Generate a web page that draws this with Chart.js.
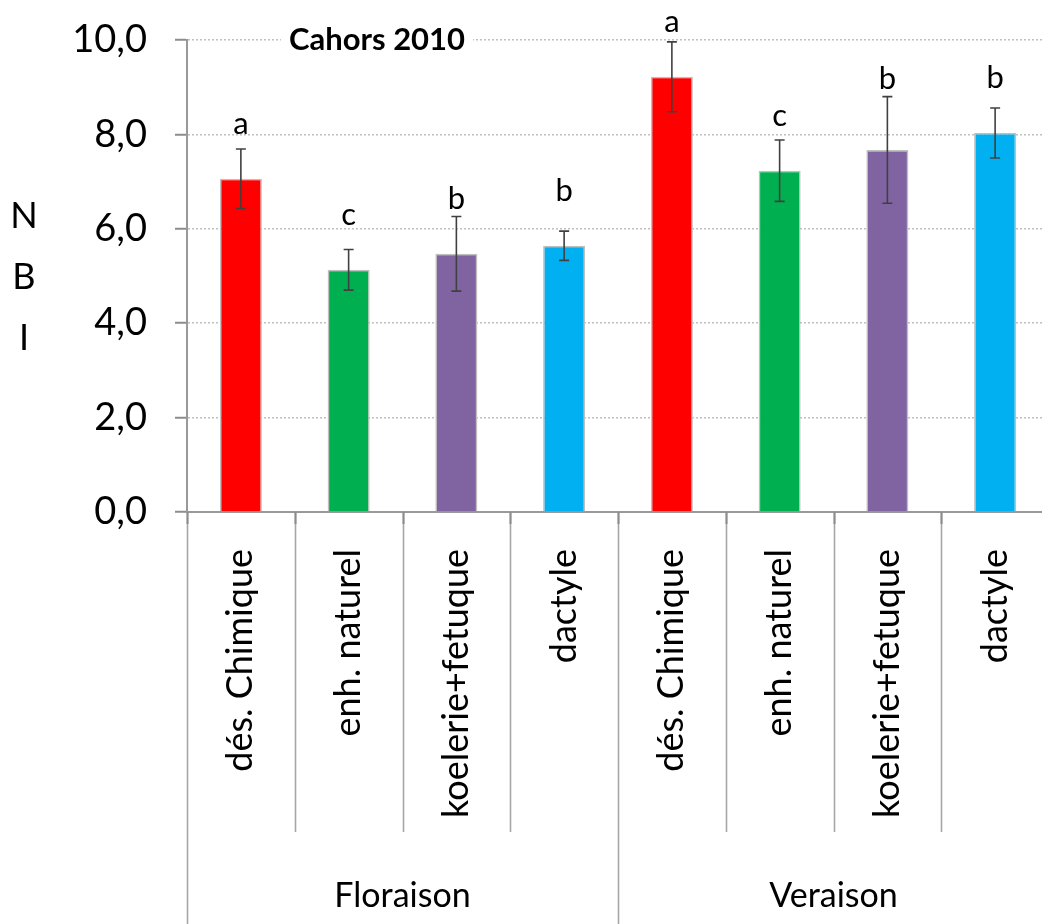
<!DOCTYPE html>
<html>
<head>
<meta charset="utf-8">
<script src="https://cdn.jsdelivr.net/npm/chart.js@4.4.1/dist/chart.umd.min.js"></script>
<style>
  html, body { margin: 0; padding: 0; background: #fff; overflow: hidden; }
  #wrap { width: 1042px; height: 924px; overflow: hidden; position: relative; background: #fff; }
  canvas { display: block; }
</style>
</head>
<body>
<div id="wrap"><canvas id="nbi" width="1109" height="924"></canvas></div>
<script>
// NBI per cover treatment, two phenological stages
const categories = ['dés. Chimique', 'enh. naturel', 'koelerie+fetuque', 'dactyle',
                    'dés. Chimique', 'enh. naturel', 'koelerie+fetuque', 'dactyle'];
const stages = ['Floraison', 'Veraison'];
const stageOfCategory = [0, 0, 0, 0, 1, 1, 1, 1];
const nbiValues = [7.06, 5.13, 5.47, 5.64, 9.22, 7.23, 7.67, 8.03];
const nbiErrors = [0.63, 0.43, 0.79, 0.31, 0.74, 0.65, 1.13, 0.53];
const groupLetters = ['a', 'c', 'b', 'b', 'a', 'c', 'b', 'b'];
const yTicks = [0, 2, 4, 6, 8, 10];
const barColors = ['#FF0000', '#00B050', '#8064A2', '#00B0F0',
                   '#FF0000', '#00B050', '#8064A2', '#00B0F0'];
const chartTitle = 'Cahors 2010';
const yTitleLetters = ['N', 'B', 'I'];

const FONT = 'Lato, "Open Sans", sans-serif';
const fmt = v => v.toFixed(1).replace('.', ',');

// Error bars, significance letters, category separators, stage labels, titles
const decor = {
  id: 'decor',
  afterDatasetsDraw(chart) {
    const { ctx, scales: { x, y } } = chart;
    ctx.save();
    nbiValues.forEach((v, i) => {
      const cx = x.getPixelForValue(i);
      const yt = y.getPixelForValue(v + nbiErrors[i]);
      const yb = y.getPixelForValue(v - nbiErrors[i]);
      ctx.strokeStyle = '#404040';
      ctx.lineWidth = 1.6;
      ctx.beginPath();
      ctx.moveTo(cx, yt); ctx.lineTo(cx, yb);
      ctx.moveTo(cx - 5, yt); ctx.lineTo(cx + 5, yt);
      ctx.moveTo(cx - 5, yb); ctx.lineTo(cx + 5, yb);
      ctx.stroke();

      const top = y.getPixelForValue(v);
      const base = Math.min(top - 45, yt - 8);
      ctx.fillStyle = '#000';
      ctx.font = '31px ' + FONT;
      ctx.textAlign = 'center';
      ctx.textBaseline = 'alphabetic';
      ctx.fillText(groupLetters[i], cx, base);
    });
    ctx.restore();
  },
  afterDraw(chart) {
    const { ctx, chartArea, scales: { x, y } } = chart;
    const H = chart.height;
    const half = (x.getPixelForValue(1) - x.getPixelForValue(0)) / 2;
    const edge = b => x.getPixelForValue(b) - half;
    const innerBottom = H - 92;
    ctx.save();

    // separators below the axis
    for (let b = 0; b <= categories.length; b++) {
      const bx = Math.round(edge(b)) + 0.5;
      const isGroupEdge = b === 0 || b === categories.length ||
        stageOfCategory[b] !== stageOfCategory[b - 1];
      ctx.strokeStyle = '#a6a6a6';
      ctx.lineWidth = 1.6;
      ctx.beginPath();
      ctx.moveTo(bx, chartArea.bottom);
      ctx.lineTo(bx, isGroupEdge ? H : innerBottom);
      ctx.stroke();
      ctx.strokeStyle = '#8c8c8c';
      ctx.lineWidth = 2;
      ctx.beginPath();
      ctx.moveTo(bx, chartArea.bottom);
      ctx.lineTo(bx, chartArea.bottom + 12);
      ctx.stroke();
    }

    // stage labels
    ctx.fillStyle = '#000';
    ctx.font = '34px ' + FONT;
    ctx.textAlign = 'center';
    ctx.textBaseline = 'alphabetic';
    stages.forEach((s, g) => {
      const idx = stageOfCategory.map((v, i) => v === g ? i : -1).filter(i => i >= 0);
      const left = edge(idx[0]);
      const right = edge(idx[idx.length - 1] + 1);
      ctx.fillText(s, (left + right) / 2, H - 17);
    });

    // chart title over the top gridline
    ctx.font = 'bold 31px ' + FONT;
    const tw = ctx.measureText(chartTitle).width;
    const tx = chartArea.left + 190;
    ctx.fillStyle = '#fff';
    ctx.fillRect(tx - tw / 2 - 8, chartArea.top - 12, tw + 16, 24);
    ctx.fillStyle = '#000';
    ctx.textAlign = 'center';
    ctx.fillText(chartTitle, tx, chartArea.top + 10);

    // stacked y-axis title
    ctx.font = '36px ' + FONT;
    ctx.textBaseline = 'middle';
    const mid = (chartArea.top + chartArea.bottom) / 2 + 1;
    yTitleLetters.forEach((ch, i) => {
      ctx.fillText(ch, 24, mid + (i - 1) * 61);
    });
    ctx.restore();
  }
};

new Chart(document.getElementById('nbi'), {
  type: 'bar',
  data: {
    labels: categories,
    datasets: [{
      data: nbiValues,
      backgroundColor: barColors,
      borderColor: '#bfbfbf',
      borderWidth: 1.5,
      barPercentage: 0.39,
      categoryPercentage: 1
    }]
  },
  options: {
    responsive: false,
    devicePixelRatio: 1,
    animation: false,
    layout: { padding: { top: 40, right: 60, bottom: 0, left: 0 } },
    plugins: {
      legend: { display: false },
      tooltip: { enabled: false },
      title: { display: false }
    },
    scales: {
      x: {
        type: 'category',
        offset: true,
        grid: { display: false, drawTicks: false },
        border: { display: true, color: '#999999', width: 2 },
        ticks: {
          autoSkip: false,
          minRotation: 90,
          maxRotation: 90,
          padding: 37,
          color: '#000',
          font: { family: FONT, size: 36 }
        },
        afterFit(scale) {
          scale.height = 412;
          scale.paddingLeft = 0;
          scale.paddingRight = 0;
        }
      },
      y: {
        min: 0,
        max: 10,
        afterBuildTicks(scale) { scale.ticks = yTicks.map(v => ({ value: v })); },
        grid: {
          color: '#c0c0c0',
          lineWidth: 1.5,
          tickLength: 12,
          tickColor: '#8c8c8c',
          tickWidth: 2,
          tickBorderDash: []
        },
        border: { display: true, color: '#999999', width: 2, dash: [2, 2] },
        ticks: {
          padding: 28,
          color: '#000',
          font: { family: FONT, size: 38 },
          callback: v => fmt(v)
        },
        afterFit(scale) {
          scale.width = 187;
          scale.paddingTop = 0;
          scale.paddingBottom = 0;
        }
      }
    }
  },
  plugins: [decor]
});
</script>
</body>
</html>
